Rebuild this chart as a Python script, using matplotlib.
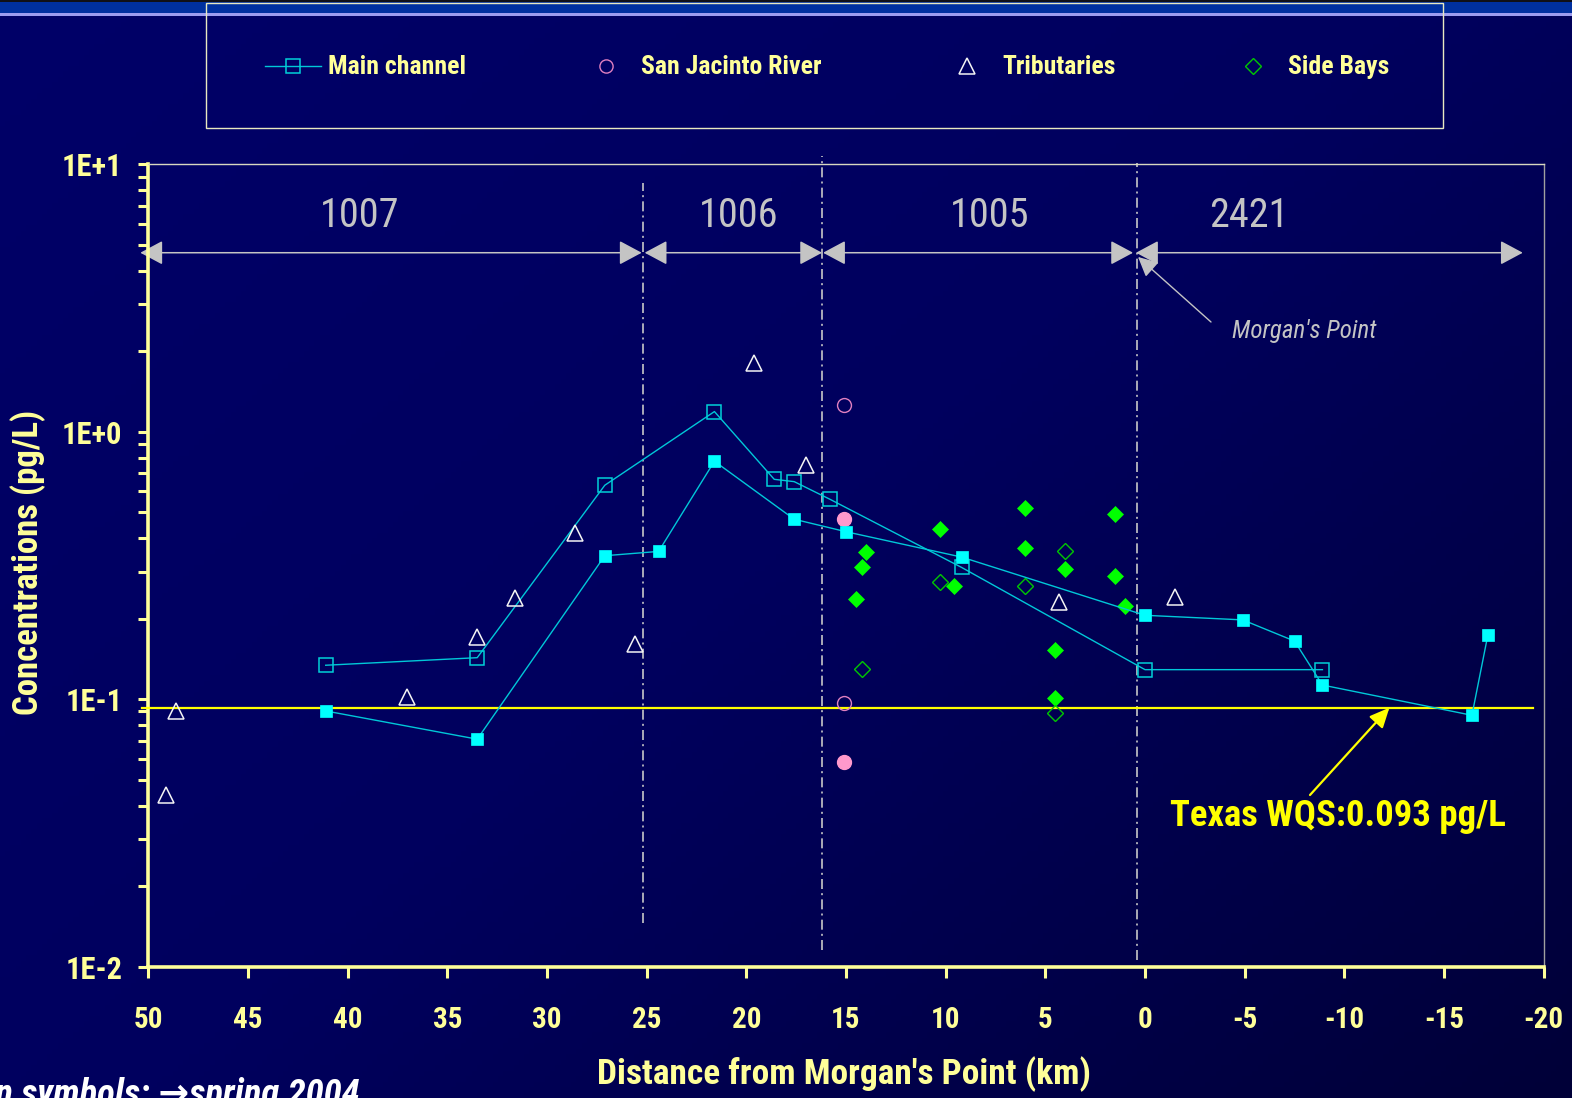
import numpy as np
import matplotlib
matplotlib.use("Agg")
import matplotlib.pyplot as plt
import matplotlib.transforms as mtransforms
from matplotlib import font_manager as fm
from matplotlib.patches import FancyArrowPatch, Rectangle
from matplotlib.colors import LinearSegmentedColormap
from matplotlib.ticker import LogLocator, NullFormatter


def first_installed(names):
    for name in names:
        try:
            fm.findfont(fm.FontProperties(family=name), fallback_to_default=False)
            return name
        except ValueError:
            pass
    return None


# prefer a condensed face; otherwise shrink sizes of the regular face
NARROW = first_installed(["Liberation Sans Narrow", "Arial Narrow", "Roboto Condensed",
                          "Noto Sans Condensed", "Open Sans Condensed"])
if NARROW:
    plt.rcParams["font.family"] = [NARROW, "DejaVu Sans"]
else:
    plt.rcParams["font.family"] = ["Liberation Sans", "DejaVu Sans"]
plt.rcParams["axes.unicode_minus"] = False


def fs(narrow_size, regular_size):
    return narrow_size if NARROW else regular_size


# ---------------- data ----------------
# Main channel, open symbols
main_open_km = [41.1, 33.5, 27.1, 21.6, 18.6, 17.6, 15.8, 9.2, 0.0, -8.9]
main_open_conc = [0.134, 0.143, 0.631, 1.19, 0.664, 0.651, 0.559, 0.311, 0.129, 0.129]

# Main channel, filled symbols (spring 2004)
main_fill_km = [41.1, 33.5, 27.1, 24.4, 21.6, 17.6, 15.0, 9.2, 0.0, -4.9, -7.5, -8.9, -16.4, -17.2]
main_fill_conc = [0.0904, 0.0709, 0.344, 0.357, 0.776, 0.471, 0.423, 0.340, 0.206, 0.198,
                  0.165, 0.113, 0.0871, 0.174]

# San Jacinto River
sjr_open_km = [15.1, 15.1]
sjr_open_conc = [1.26, 0.0966]
sjr_fill_km = [15.1, 15.1]
sjr_fill_conc = [0.471, 0.0584]

# Tributaries
trib_km = [49.1, 48.6, 37.0, 33.5, 31.6, 28.6, 25.6, 19.6, 17.0, 4.3, -1.5]
trib_conc = [0.0439, 0.0904, 0.102, 0.171, 0.239, 0.420, 0.161, 1.81, 0.751, 0.230, 0.242]

# Side bays
bay_fill_km = [14.0, 14.2, 14.5, 10.3, 9.6, 6.0, 6.0, 4.0, 1.5, 1.5, 1.0, 4.5, 4.5]
bay_fill_conc = [0.354, 0.313, 0.238, 0.434, 0.264, 0.518, 0.367, 0.308, 0.492, 0.288,
                 0.223, 0.153, 0.101]
bay_open_km = [4.0, 10.3, 6.0, 14.2, 4.5]
bay_open_conc = [0.359, 0.274, 0.264, 0.130, 0.0891]

# Texas water quality standard
wqs = 0.093

# Segments along the channel
segment_names = ["1007", "1006", "1005", "2421"]
segment_label_km = [39.4, 20.4, 7.8, -5.2]
segment_arrow_km = [(50.4, 25.25), (25.1, 16.2), (16.15, 0.6), (0.45, -18.95)]
segment_bounds_km = [25.2, 16.2, 0.42]

x_ticks = list(range(50, -21, -5))
y_ticks = [0.01, 0.1, 1, 10]
y_tick_labels = ["1E-2", "1E-1", "1E+0", "1E+1"]

# ---------------- figure ----------------
W, H = 1572, 1098
fig = plt.figure(figsize=(W / 100, H / 100), dpi=100)

PALE = "#FFFF99"
GREY = "#C4C4C4"

# navy background, darkening toward lower right
bg = fig.add_axes([0, 0, 1, 1], zorder=-10)
yy, xx = np.mgrid[0:1:200j, 0:1:300j]
shade = 0.45 * yy + 0.55 * xx
bg.imshow(shade, cmap=LinearSegmentedColormap.from_list("navy", ["#000068", "#00005e", "#000038"]),
          extent=[0, 1, 0, 1], aspect="auto", origin="upper", vmin=0, vmax=1)
bg.set_axis_off()

ax = fig.add_axes([148.3 / W, 1 - 966.7 / H, (1543.7 - 148.3) / W, (966.7 - 164.3) / H])
ax.set_facecolor("none")
ax.set_yscale("log")
ax.set_xlim(50, -20)
ax.set_ylim(0.01, 10)

ax.set_xticks(x_ticks)
ax.set_xticklabels([str(v) for v in x_ticks], fontweight="bold")
ax.set_yticks(y_ticks)
ax.set_yticklabels(y_tick_labels, fontweight="bold")
ax.yaxis.set_minor_locator(LogLocator(base=10, subs=range(2, 10)))
ax.yaxis.set_minor_formatter(NullFormatter())

for s in ("left", "bottom"):
    ax.spines[s].set_color(PALE)
    ax.spines[s].set_linewidth(2.6)
ax.spines["top"].set_color("#D8D8C0")
ax.spines["top"].set_linewidth(1.0)
ax.spines["right"].set_color("#A0A0A0")
ax.spines["right"].set_linewidth(1.0)

ax.tick_params(axis="y", which="both", direction="out", length=7.5, width=2.2,
               color=PALE, labelcolor=PALE, labelsize=fs(22, 19), pad=11)
ax.tick_params(axis="x", which="both", direction="out", length=8, width=2.2,
               color=PALE, labelcolor=PALE, labelsize=fs(21, 19), pad=20)

# water quality standard line
ax.plot([50.3, -19.45], [wqs, wqs], color="#FFFF00", lw=1.6, clip_on=False, zorder=3)

# segment boundaries
blend = mtransforms.blended_transform_factory(ax.transData, ax.transAxes)
bound_extents = [(0.0545, 0.977), (0.0208, 1.0103), (0.0083, 1.0012)]
for xb, (y0, y1) in zip(segment_bounds_km, bound_extents):
    ax.plot([xb, xb], [y0, y1], transform=blend, color="#C8C8C8", lw=1.2,
            ls=(0, (6, 2.5, 1.2, 2.5)), clip_on=False, zorder=2)

# segment arrows and names
for name, lx, (xa, xb) in zip(segment_names, segment_label_km, segment_arrow_km):
    arr = FancyArrowPatch((xa, 0.8898), (xb, 0.8898), transform=blend,
                          arrowstyle="<|-|>,head_length=14,head_width=7.5",
                          mutation_scale=1, shrinkA=0, shrinkB=0,
                          color=GREY, lw=1.1, clip_on=False, zorder=2)
    ax.add_patch(arr)
    ax.text(lx, 0.9215, name, transform=blend, ha="center", va="baseline",
            color=GREY, fontsize=fs(29, 24.7))

# Morgan's Point pointer
ax.annotate("", xy=(0.35, 0.8845), xycoords=blend,
            xytext=(1211, H - 322), textcoords="figure pixels",
            arrowprops=dict(arrowstyle="-|>,head_length=12,head_width=6", mutation_scale=1,
                            color=GREY, lw=1.0, shrinkA=0, shrinkB=0))
fig.text(1232 / W, 1 - 338 / H, "Morgan's Point", color=GREY, fontsize=fs(18, 15.4),
         style="italic", ha="left", va="baseline")

# series
CY_LINE = "#00C8D8"
ax.plot(main_open_km, main_open_conc, color=CY_LINE, lw=1.0, marker="s", ms=9.5,
        mfc="none", mec="#00D0D8", mew=1.1, zorder=4)
ax.plot(main_fill_km, main_fill_conc, color=CY_LINE, lw=1.0, marker="s", ms=8,
        mfc="#00FFFF", mec="#00FFFF", mew=0.5, zorder=5)
ax.plot(trib_km, trib_conc, ls="none", marker="^", ms=11, mfc="none", mec="#F4F4F4",
        mew=1.1, zorder=4)
ax.plot(sjr_open_km, sjr_open_conc, ls="none", marker="o", ms=10, mfc="none",
        mec="#E080C0", mew=1.0, zorder=4)
ax.plot(sjr_fill_km, sjr_fill_conc, ls="none", marker="o", ms=10, mfc="#FF99CC",
        mec="#FF99CC", zorder=4)
ax.plot(bay_fill_km, bay_fill_conc, ls="none", marker="D", ms=8.2, mfc="#00FF00",
        mec="#00FF00", mew=0.5, zorder=4)
ax.plot(bay_open_km, bay_open_conc, ls="none", marker="D", ms=8.2, mfc="none",
        mec="#00C800", mew=1.0, zorder=4)

# standard annotation
ax.annotate("", xy=(-12.26, wqs), xycoords="data",
            xytext=(1310, H - 795), textcoords="figure pixels",
            arrowprops=dict(arrowstyle="-|>,head_length=12,head_width=5.5", mutation_scale=1,
                            color="#FFFF00", lw=1.6, shrinkA=0, shrinkB=0), zorder=6)
fig.text(1170 / W, 1 - 825.7 / H, "Texas WQS:0.093 pg/L", color="#FFFF00",
         fontsize=fs(26.5, 22), fontweight="bold", ha="left", va="baseline")

# axis titles
fig.text(28 / W, 1 - 562.5 / H, "Concentrations (pg/L)", rotation=90, ha="center",
         va="center", color=PALE, fontsize=fs(25, 21.3), fontweight="bold")
fig.text(844 / W, 1 - 1084 / H, "Distance from Morgan's Point (km)", ha="center",
         va="baseline", color=PALE, fontsize=fs(25.5, 21.3), fontweight="bold")
fig.text(360 / W, 1 - 1105 / H, "Open symbols: \u2192spring 2004", ha="right",
         va="baseline", color="white", fontsize=fs(26.5, 21.5), fontweight="bold",
         style="italic")

# header band and legend
ov = fig.add_axes([0, 0, 1, 1], zorder=5)
ov.set_xlim(0, W)
ov.set_ylim(H, 0)
ov.set_axis_off()
ov.patch.set_alpha(0)
ov.add_patch(Rectangle((0, 0), W, 2, color="#101018", lw=0))
ov.add_patch(Rectangle((0, 2), W, 11, color="#0030A0", lw=0))
ov.add_patch(Rectangle((0, 13), W, 3, color="#9C9CF0", lw=0))
ov.add_patch(Rectangle((205.5, 2.5), 1443 - 205.5, 128 - 2.5, fill=False,
                       ec="#E8E8C0", lw=1.0))

ov.plot([265, 321], [66, 66], color=CY_LINE, lw=1.0)
ov.plot([292.6], [66], marker="s", ms=9.5, mfc="none", mec="#00D0D8", mew=1.1)
ov.plot([605.6], [66], marker="o", ms=9.5, mfc="none", mec="#E080C0", mew=1.0)
ov.plot([967], [66], marker="^", ms=11.5, mfc="none", mec="#F4F4F4", mew=1.1)
ov.plot([1253], [66], marker="D", ms=8.5, mfc="none", mec="#00C800", mew=1.0)
for lx, txt in [(328, "Main channel"), (641, "San Jacinto River"),
                (1002, "Tributaries"), (1287.6, "Side Bays")]:
    ov.text(lx, 74, txt, ha="left", va="baseline", color=PALE, fontsize=fs(18.5, 15.8),
            fontweight="bold")

fig.savefig("out.png", dpi=100, facecolor="#000060")
